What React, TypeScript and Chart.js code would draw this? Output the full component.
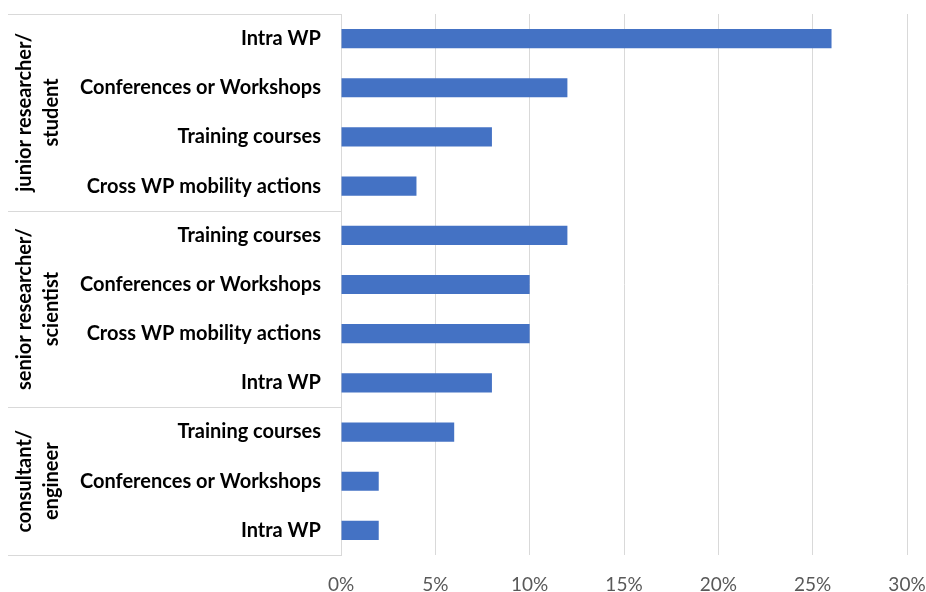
import React, { useEffect, useRef } from "react";
import { Chart, registerables } from "chart.js";

Chart.register(...registerables);

const categories = [
  "Intra WP",
  "Conferences or Workshops",
  "Training courses",
  "Cross WP mobility actions",
  "Training courses",
  "Conferences or Workshops",
  "Cross WP mobility actions",
  "Intra WP",
  "Training courses",
  "Conferences or Workshops",
  "Intra WP",
];
const values = [26, 12, 8, 4, 12, 10, 10, 8, 6, 2, 2];
const groupNames = [
  ["junior researcher/", "student"],
  ["senior researcher/", "scientist"],
  ["consultant/", "engineer"],
];
const groupSizes = [4, 4, 3];
const xTicks = [0, 5, 10, 15, 20, 25, 30];

const FONT = "Lato, 'Noto Sans', sans-serif";
const LINE = "#d9d9d9";

const groupPlugin = {
  id: "groupLabels",
  afterDraw(chart: any) {
    const { ctx, chartArea } = chart;
    const y = chart.scales.y;
    const half = (y.getPixelForValue(1) - y.getPixelForValue(0)) / 2;
    const left = 8;
    const right = chartArea.left;
    ctx.save();
    ctx.strokeStyle = LINE;
    ctx.lineWidth = 1;
    const bounds: number[] = [chartArea.top];
    let idx = 0;
    groupSizes.forEach((n) => {
      idx += n;
      bounds.push(y.getPixelForValue(idx - 1) + half);
    });
    bounds[bounds.length - 1] = chartArea.bottom;
    bounds.forEach((b) => {
      const yy = Math.round(b) + 0.5;
      ctx.beginPath();
      ctx.moveTo(left, yy);
      ctx.lineTo(right, yy);
      ctx.stroke();
    });
    ctx.fillStyle = "#000";
    ctx.font = `bold 20px ${FONT}`;
    ctx.textAlign = "center";
    ctx.textBaseline = "middle";
    groupNames.forEach((lines, g) => {
      const cy = (bounds[g] + bounds[g + 1]) / 2;
      lines.forEach((t, k) => {
        ctx.save();
        ctx.translate(25 + k * 27, cy);
        ctx.rotate(-Math.PI / 2);
        ctx.fillText(t, 0, 0);
        ctx.restore();
      });
    });
    ctx.restore();
  },
};

const zeroPad = (s: any) => {
  s.paddingTop = 0;
  s.paddingBottom = 0;
  s.paddingLeft = 0;
  s.paddingRight = 0;
};

export default function App() {
  const ref = useRef<HTMLCanvasElement>(null);
  useEffect(() => {
    const chart = new Chart(ref.current!, {
      type: "bar",
      data: {
        labels: categories,
        datasets: [
          {
            data: values,
            backgroundColor: "#4472C4",
            barPercentage: 0.39,
            categoryPercentage: 1,
          },
        ],
      },
      options: {
        indexAxis: "y",
        animation: false,
        responsive: false,
        maintainAspectRatio: false,
        layout: { padding: { top: 14, right: 19, left: 0, bottom: 0 } },
        plugins: { legend: { display: false }, tooltip: { enabled: false } },
        scales: {
          x: {
            min: 0,
            max: 30,
            afterBuildTicks: (s: any) => {
              s.ticks = xTicks.map((v) => ({ value: v }));
            },
            afterFit: (s: any) => {
              s.height = 37;
              zeroPad(s);
            },
            grid: { color: LINE, drawTicks: false, lineWidth: 1 },
            border: { display: false },
            ticks: {
              padding: 18,
              color: "#595959",
              font: { family: FONT, size: 19 },
              callback: (v: any) => v + "%",
            },
          },
          y: {
            afterFit: (s: any) => {
              s.width = 341;
              zeroPad(s);
            },
            grid: { display: false, drawTicks: false },
            border: { display: true, color: LINE, width: 1 },
            ticks: {
              padding: 20,
              color: "#000",
              font: { family: FONT, size: 20, weight: "bold" },
            },
          },
        },
      },
      plugins: [groupPlugin],
    });
    return () => chart.destroy();
  }, []);
  return (
    <div style={{ position: "absolute", left: 0, top: 0, width: 926, height: 592, background: "#fff" }}>
      <canvas ref={ref} width={926} height={592} style={{ width: 926, height: 592 }} />
    </div>
  );
}
